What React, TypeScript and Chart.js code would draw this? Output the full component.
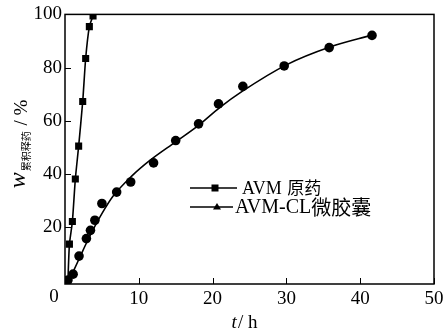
import React, { useEffect, useRef } from "react";
import { Chart, registerables } from "chart.js";

Chart.register(...registerables);

// AVM 原药 (squares)
const avmT = [0.4, 0.6, 1.0, 1.4, 1.85, 2.4, 2.8, 3.3, 3.8];
const avmW = [0, 13.5, 22, 38, 50.4, 67.2, 83.4, 95.4, 99.4];

// AVM-CL 微胶囊 (measured points)
const clT = [0.4, 1.1, 1.9, 2.9, 3.45, 4.05, 5.0, 7.0, 8.9, 12.0, 15.0, 18.1, 20.8, 24.1, 29.7, 35.8, 41.6];
const clW = [0, 2.2, 9, 15.6, 18.7, 22.5, 28.8, 33.1, 36.9, 44.1, 52.5, 58.8, 66.3, 72.9, 80.6, 87.5, 92.1];

// AVM-CL fitted curve
const fitT = [0.4, 1, 2, 3, 4, 5, 6.5, 9, 11.5, 15, 18, 21, 24, 30, 36, 41.6];
const fitW = [-1, 2.5, 8.5, 14.5, 20, 25, 31.5, 39, 45, 52, 58, 65, 71, 81, 87.8, 92.2];

const xTicks = [0, 10, 20, 30, 40, 50];
const yTicks = [20, 40, 60, 80, 100];
const legendLabels = ["AVM 原药", "AVM-CL微胶囊"];
const xTitleItalic = "t";
const xTitleRest = "/ h";
const yTitleMain = "w";
const yTitleSub = "累积释药";
const yTitleRest = " / %";
const originLabel = "0";

const SERIF = "'Liberation Serif', 'Times New Roman', serif";
const CJK = "'Noto Sans CJK SC', sans-serif";

const decorPlugin = {
  id: "decor",
  afterDraw(chart: any) {
    const { ctx, chartArea, scales } = chart;
    const { left, right, top, bottom } = chartArea;
    ctx.save();
    ctx.strokeStyle = "#000";
    ctx.lineWidth = 1.5;
    ctx.strokeRect(left, top, right - left, bottom - top);
    // inward ticks
    ctx.lineWidth = 1;
    ctx.beginPath();
    for (const v of yTicks) {
      const y = Math.round(scales.y.getPixelForValue(v)) + 0.5;
      ctx.moveTo(left, y);
      ctx.lineTo(left + 6, y);
    }
    for (const v of xTicks) {
      const x = Math.round(scales.x.getPixelForValue(v)) + 0.5;
      ctx.moveTo(x, bottom);
      ctx.lineTo(x, bottom - 6);
    }
    ctx.stroke();

    ctx.fillStyle = "#000";
    // origin label
    ctx.font = `19px ${SERIF}`;
    ctx.textAlign = "center";
    ctx.textBaseline = "middle";
    ctx.fillText(originLabel, left - 11, bottom + 13);

    // x title
    ctx.textBaseline = "alphabetic";
    ctx.textAlign = "left";
    ctx.font = `italic 19px ${SERIF}`;
    const wT = ctx.measureText(xTitleItalic).width;
    ctx.font = `19px ${SERIF}`;
    const wR = ctx.measureText(xTitleRest).width;
    const xs = 244 - (wT + wR) / 2;
    ctx.font = `italic 19px ${SERIF}`;
    ctx.fillText(xTitleItalic, xs, 328);
    ctx.font = `19px ${SERIF}`;
    ctx.fillText(xTitleRest, xs + wT + 1, 328);

    // y title (rotated)
    ctx.save();
    ctx.translate(0, 144);
    ctx.rotate(-Math.PI / 2);
    ctx.font = `italic 24px ${SERIF}`;
    const a = ctx.measureText(yTitleMain).width;
    ctx.font = `10px ${CJK}`;
    const b = ctx.measureText(yTitleSub).width;
    ctx.font = `19px ${SERIF}`;
    const c = ctx.measureText(yTitleRest).width;
    let sx = -(a + b + c + 2) / 2;
    ctx.font = `italic 24px ${SERIF}`;
    ctx.fillText(yTitleMain, sx, 25);
    sx += a + 1;
    ctx.font = `10px ${CJK}`;
    ctx.fillText(yTitleSub, sx, 30);
    sx += b + 1;
    ctx.font = `19px ${SERIF}`;
    ctx.fillText(yTitleRest, sx, 27);
    ctx.restore();

    // legend
    const rows = [
      { y: 188, x1: 237, tx: 242, fl: 18, fc: 17 },
      { y: 207, x1: 233, tx: 235, fl: 20, fc: 20 },
    ];
    const lx0 = 190;
    ctx.lineWidth = 1.5;
    rows.forEach((r, i) => {
      ctx.beginPath();
      ctx.moveTo(lx0, r.y);
      ctx.lineTo(r.x1, r.y);
      ctx.stroke();
      const mx = i === 0 ? 215 : 217;
      if (i === 0) {
        ctx.fillRect(mx - 3.5, r.y - 3.5, 7, 7);
      } else {
        ctx.beginPath();
        ctx.moveTo(mx, r.y - 4);
        ctx.lineTo(mx + 4, r.y + 2.5);
        ctx.lineTo(mx - 4, r.y + 2.5);
        ctx.closePath();
        ctx.fill();
      }
      const label = legendLabels[i];
      const m = label.match(/^([\x00-\x7F]+)(.*)$/);
      const latin = m ? m[1] : label;
      const cjk = m ? m[2] : "";
      ctx.font = `${r.fl}px ${SERIF}`;
      ctx.textBaseline = "middle";
      ctx.fillText(latin, r.tx, r.y + 1);
      const lw = ctx.measureText(latin).width;
      ctx.font = `${r.fc}px ${CJK}`;
      ctx.fillText(cjk, r.tx + lw + (i === 0 ? 1 : 0), r.y);
    });
    ctx.restore();
  },
};

export default function App() {
  const ref = useRef<HTMLCanvasElement | null>(null);
  useEffect(() => {
    document.body.style.margin = "0";
    const canvas = ref.current;
    if (!canvas) return;
    const chart = new Chart(canvas, {
      type: "scatter",
      data: {
        datasets: [
          {
            label: legendLabels[0],
            data: avmT.map((t, i) => ({ x: t, y: avmW[i] })),
            showLine: true,
            tension: 0.2,
            borderColor: "#000",
            backgroundColor: "#000",
            borderWidth: 1.6,
            pointStyle: "rect",
            pointRadius: 5,
            pointBorderWidth: 0,
          },
          {
            label: "fit",
            data: fitT.map((t, i) => ({ x: t, y: fitW[i] })),
            showLine: true,
            cubicInterpolationMode: "monotone",
            borderColor: "#000",
            borderWidth: 1.6,
            pointRadius: 0,
          },
          {
            label: legendLabels[1],
            data: clT.map((t, i) => ({ x: t, y: clW[i] })),
            showLine: false,
            backgroundColor: "#000",
            borderColor: "#000",
            pointStyle: "circle",
            pointRadius: 4.8,
            pointBorderWidth: 0,
          },
        ],
      },
      options: {
        animation: false,
        responsive: false,
        maintainAspectRatio: false,
        layout: { padding: { left: 0, right: 14, top: 13, bottom: 0 } },
        plugins: { legend: { display: false }, tooltip: { enabled: false } },
        scales: {
          x: {
            type: "linear",
            min: 0,
            max: 50,
            grid: { display: false, drawTicks: false },
            border: { display: false },
            afterBuildTicks: (s: any) => {
              s.ticks = xTicks.map((v) => ({ value: v }));
            },
            afterFit: (s: any) => {
              s.height = 51;
            },
            ticks: {
              color: "#000",
              padding: 4,
              maxRotation: 0,
              font: { family: SERIF, size: 19 },
              callback: (v: any) => (v === 0 ? "" : String(v)),
            },
          },
          y: {
            type: "linear",
            min: -1.5,
            max: 100,
            grid: { display: false, drawTicks: false },
            border: { display: false },
            afterBuildTicks: (s: any) => {
              s.ticks = yTicks.map((v) => ({ value: v }));
            },
            afterFit: (s: any) => {
              s.width = 65;
            },
            ticks: {
              color: "#000",
              padding: 3,
              font: { family: SERIF, size: 19 },
            },
          },
        },
      },
      plugins: [decorPlugin],
    } as any);
    return () => chart.destroy();
  }, []);
  return (
    <div style={{ width: 448, height: 335 }}>
      <canvas ref={ref} width={448} height={335} style={{ display: "block" }} />
    </div>
  );
}
